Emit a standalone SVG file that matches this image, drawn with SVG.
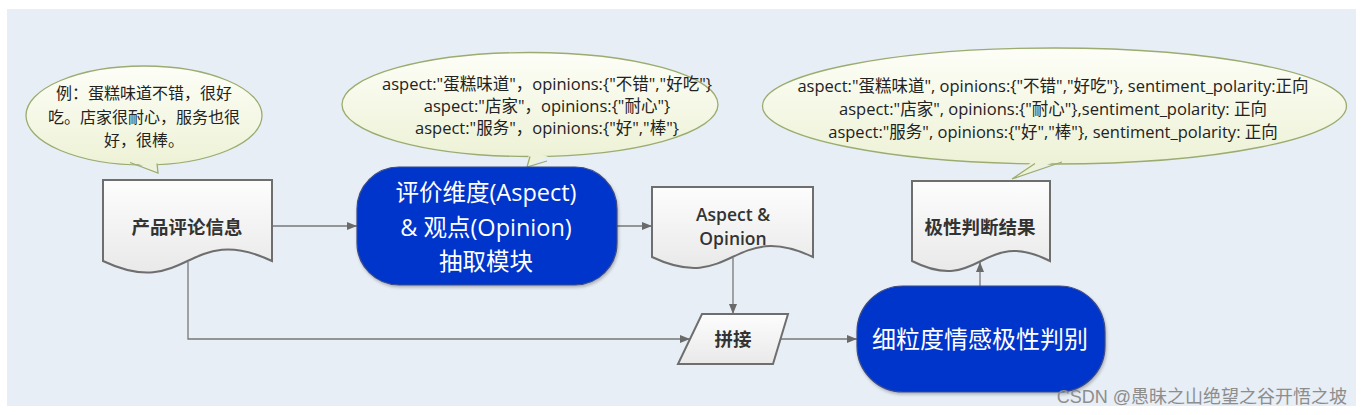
<svg xmlns="http://www.w3.org/2000/svg" width="1364" height="415" viewBox="0 0 1364 415">
<defs>
<linearGradient id="bub" x1="0" y1="0" x2="0" y2="1"><stop offset="0" stop-color="#fdfef7"/><stop offset="1" stop-color="#edf2d6"/></linearGradient>
<linearGradient id="doc" x1="0" y1="0" x2="0" y2="1"><stop offset="0" stop-color="#fdfdfd"/><stop offset="1" stop-color="#e9e9e9"/></linearGradient>
<marker id="arr" markerUnits="userSpaceOnUse" markerWidth="10" markerHeight="10" viewBox="0 0 10 10" refX="10" refY="5" orient="auto"><path d="M0,1 L10,5 L0,9 Z" fill="#6a6a6a"/></marker>
<filter id="sh" x="-10%" y="-10%" width="120%" height="130%"><feDropShadow dx="1" dy="2" stdDeviation="1.5" flood-color="#000" flood-opacity="0.25"/></filter>
</defs>
<style>
.bubble{fill:url(#bub);stroke:#9bac70;stroke-width:1.3}
.tailf{fill:#eef2d8;stroke:none}
.tails{fill:none;stroke:#9bac70;stroke-width:1.3}
.btxt{font-family:"Open Sans","Noto Sans CJK SC",sans-serif;font-size:16.5px;fill:#222;text-anchor:middle}
.doc{fill:url(#doc);stroke:#6e6e6e;stroke-width:2}
.dtxt{font-family:"Open Sans","Noto Sans CJK SC",sans-serif;font-size:18.5px;font-weight:600;fill:#333;text-anchor:middle}
.proc{fill:#0336cc;stroke:#3b4a86;stroke-width:1.2;filter:url(#sh)}
.ptxt{font-family:"Open Sans","Noto Sans CJK SC",sans-serif;fill:#fff;text-anchor:middle}
.conn{fill:none;stroke:#777;stroke-width:1.3}
</style>
<rect x="7" y="9" width="1349" height="397" fill="#e7eef5"/>

<g id="bubble-example">
<ellipse class="bubble" cx="144" cy="115.5" rx="118" ry="49.5"/>
<polygon class="tailf" points="128,159 158,173 157,159"/>
<polyline class="tails" points="130,162.5 158,173 157,163.5"/>
<text class="btxt" style="font-size:16px" x="144" y="99">例：蛋糕味道不错，很好</text>
<text class="btxt" style="font-size:16px" x="144" y="123">吃。店家很耐心，服务也很</text>
<text class="btxt" style="font-size:16px" x="144" y="146">好，很棒。</text>
</g>

<g id="bubble-extract">
<ellipse class="bubble" cx="530" cy="104.5" rx="188" ry="52"/>
<polygon class="tailf" points="529,153 527,167 548,156"/>
<polyline class="tails" points="530,156.5 527,167 547,161"/>
<text class="btxt" x="547" y="90">aspect:"蛋糕味道"，opinions:{"不错","好吃"}</text>
<text class="btxt" x="547" y="112">aspect:"店家"，opinions:{"耐心"}</text>
<text class="btxt" x="547" y="134">aspect:"服务"，opinions:{"好","棒"}</text>
</g>

<g id="bubble-result">
<ellipse class="bubble" cx="1054.5" cy="106" rx="292" ry="58"/>
<polygon class="tailf" points="1034,160 1012,179 1064,158"/>
<polyline class="tails" points="1035,163.5 1012,179 1062,162"/>
<text class="btxt" x="1053" y="92">aspect:"蛋糕味道", opinions:{"不错","好吃"}, sentiment_polarity:正向</text>
<text class="btxt" x="1053" y="115">aspect:"店家", opinions:{"耐心"},sentiment_polarity: 正向</text>
<text class="btxt" x="1053" y="138">aspect:"服务", opinions:{"好","棒"}, sentiment_polarity: 正向</text>
</g>

<g id="connectors">
<line class="conn" x1="272" y1="226" x2="357" y2="226" marker-end="url(#arr)"/>
<line class="conn" x1="617" y1="226" x2="652" y2="226" marker-end="url(#arr)"/>
<line class="conn" x1="733" y1="258" x2="733" y2="314" marker-end="url(#arr)"/>
<polyline class="conn" points="188,262 188,339 690,339" marker-end="url(#arr)"/>
<line class="conn" x1="781" y1="339" x2="857" y2="339" marker-end="url(#arr)"/>
<line class="conn" x1="980" y1="286" x2="980" y2="262" marker-end="url(#arr)"/>
</g>

<g id="doc-review">
<path class="doc" d="M103,180 H272 V261 C187.5,221 187.5,301 103,261 Z"/>
<text class="dtxt" x="187" y="234">产品评论信息</text>
</g>

<g id="proc-extract">
<rect class="proc" x="357" y="167" width="260" height="118" rx="42"/>
<text class="ptxt" style="font-size:23.5px" x="486" y="201">评价维度(Aspect)</text>
<text class="ptxt" style="font-size:23.5px" x="486" y="236">&amp; 观点(Opinion)</text>
<text class="ptxt" style="font-size:23.5px" x="486" y="270">抽取模块</text>
</g>

<g id="doc-aspect-opinion">
<path class="doc" d="M652,187 H813 V257 C732.5,219 732.5,295 652,257 Z"/>
<text class="dtxt" style="font-size:17.5px" x="733" y="221">Aspect &amp;</text>
<text class="dtxt" style="font-size:17.5px" x="733" y="245">Opinion</text>
</g>

<g id="concat">
<polygon class="doc" points="702,314 788,314 773,364 678,364"/>
<text class="dtxt" x="733" y="346">拼接</text>
</g>

<g id="proc-polarity">
<rect class="proc" x="857" y="286" width="248" height="106" rx="46"/>
<text class="ptxt" style="font-size:24px" x="980" y="348">细粒度情感极性判别</text>
</g>

<g id="doc-result">
<path class="doc" d="M912,181 H1050 V261 C981,226 981,296 912,261 Z"/>
<text class="dtxt" x="980" y="234">极性判断结果</text>
</g>

<text x="1347" y="403" style="font-family:'Liberation Sans','Noto Sans CJK SC',sans-serif;font-size:18px;fill:#8d8d8d;text-anchor:end">CSDN @愚昧之山绝望之谷开悟之坡</text>
</svg>
